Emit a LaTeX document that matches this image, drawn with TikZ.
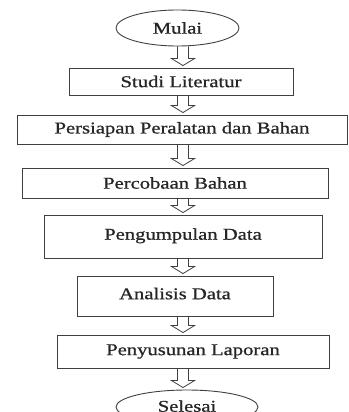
\documentclass[tikz,border=0pt]{standalone}
\usepackage{fontspec}
\setmainfont{Liberation Serif}
\newfontfamily\flowfont{Liberation Serif}[FakeBold=0.7]
\usepackage{graphicx}
\usetikzlibrary{shapes.geometric,calc}
\newcommand{\wt}[1]{\scalebox{1.25}[1]{#1}}
\newcommand{\hollowarrow}[2]{%
  \draw[harrow] let \p1=(#1.south), \p2=(#2.north) in
    (177.5pt,\y1) -- (177.5pt,{\y2+9pt}) -- (171.5pt,{\y2+9pt}) -- (183pt,{\y2+2pt})
    -- (194.5pt,{\y2+9pt}) -- (188.5pt,{\y2+9pt}) -- (188.5pt,\y1);}
\begin{document}
\begin{tikzpicture}[x=1pt,y=-1pt,
  box/.style={draw=black!75, line width=0.9pt, rectangle, inner sep=0pt,
    font=\flowfont\fontsize{16.5}{18}\selectfont, text=black!85},
  term/.style={draw=black!75, line width=0.9pt, ellipse, inner sep=0pt,
    font=\flowfont\fontsize{16.5}{18}\selectfont, text=black!85},
  harrow/.style={draw=black!75, line width=0.8pt, line join=miter}]
\useasboundingbox (0,0) rectangle (348,412);
\fill[white] (0,0) rectangle (348,412);
\clip (0,0) rectangle (348,412);
\node[term, minimum width=123pt, minimum height=36pt] (mulai) at (177.5,28) {\wt{Mulai}};
\node[box, minimum width=224pt, minimum height=27pt] (studi) at (181,81.5) {\wt{Studi Literatur}};
\node[box, minimum width=330pt, minimum height=29pt] (persiapan) at (182,129.5) {\wt{Persiapan Peralatan dan Bahan}};
\node[box, minimum width=306pt, minimum height=30pt] (percobaan) at (175,183) {\wt{Percobaan Bahan}};
\node[box, minimum width=278pt, minimum height=43pt] (pengumpulan) at (183,236.5) {\raisebox{5pt}{\wt{Pengumpulan Data}}};
\node[box, minimum width=196pt, minimum height=40pt] (analisis) at (175,296) {\raisebox{5pt}{\wt{Analisis Data}}};
\node[box, minimum width=272pt, minimum height=33pt] (penyusunan) at (193,351.5) {\wt{Penyusunan Laporan}};
\node[term, minimum width=142pt, minimum height=34pt] (selesai) at (187,407) {\raisebox{2pt}{\wt{Selesai}}};
\hollowarrow{mulai}{studi}
\hollowarrow{studi}{persiapan}
\hollowarrow{persiapan}{percobaan}
\hollowarrow{percobaan}{pengumpulan}
\hollowarrow{pengumpulan}{analisis}
\hollowarrow{analisis}{penyusunan}
\hollowarrow{penyusunan}{selesai}
\end{tikzpicture}
\end{document}
